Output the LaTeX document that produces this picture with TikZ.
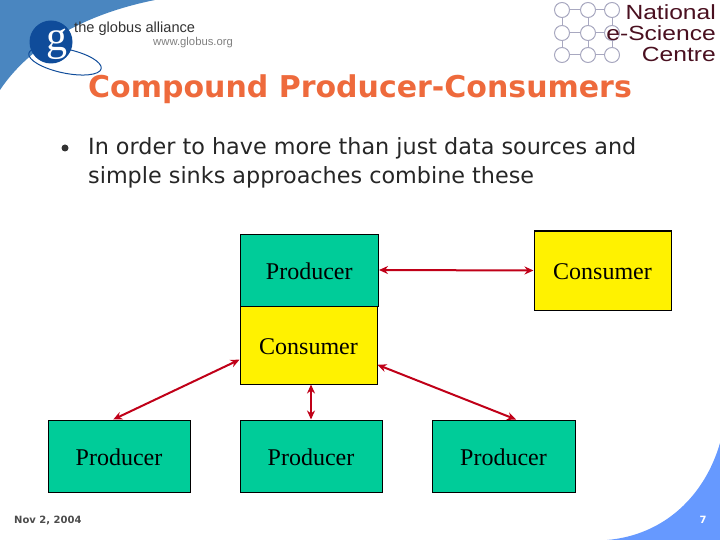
\documentclass[tikz,border=0pt]{standalone}
\usepackage{fontspec}
\setmainfont{Liberation Serif}
\setsansfont{DejaVu Sans}
\newfontfamily\logofont{Liberation Sans}
\newfontfamily\nescfont[FakeStretch=1.2]{Liberation Sans}
\usepackage{xcolor}
\usetikzlibrary{arrows.meta}
\definecolor{cornerblue}{HTML}{4A86C0}
\definecolor{footblue}{HTML}{6699FF}
\definecolor{globedark}{HTML}{0F4C9A}
\definecolor{titleorange}{HTML}{EE6A3C}
\definecolor{prodgreen}{HTML}{00CC99}
\definecolor{linkred}{HTML}{C00018}
\definecolor{gridgrey}{HTML}{A8A8C0}
\definecolor{nescred}{HTML}{4A1020}
\tikzset{
prodbox/.style={draw=black,fill=prodgreen,line width=1pt,font=\fontsize{24}{28}\selectfont,inner sep=0pt,text height=18pt,text depth=0pt},
consbox/.style={prodbox,fill=yellow},
link/.style={draw=linkred,line width=2pt,{Stealth[length=9pt,width=8pt]}-{Stealth[length=9pt,width=8pt]}},
bodytext/.style={font=\sffamily\fontsize{22.3}{29}\selectfont,text=black!85,align=left,anchor=north west,inner sep=0pt},
gridnode/.style={draw=gridgrey,fill=white,circle,line width=1pt,minimum size=15pt,inner sep=0pt},
nesctext/.style={font=\nescfont\fontsize{20.5}{21}\selectfont,text=nescred,anchor=east,inner sep=0pt,text height=15pt,text depth=0pt}
}
\begin{document}
\begin{tikzpicture}[x=1pt,y=-1pt]
\useasboundingbox (0,0) rectangle (720,540);
\fill[cornerblue] (0,0) -- (155,0) .. controls (85,14) and (30,45) .. (0,90) -- cycle;
\fill[footblue] (720,443) .. controls (705,495) and (665,535) .. (607,540) -- (720,540) -- cycle;
\node[circle,fill=globedark,minimum size=43pt,inner sep=0pt] (globe) at (51,42) {};
\draw[globedark,line width=1pt,rotate around={-12:(65,61)}] (65,61) ellipse (37 and 12);
\node[text=white,font=\fontsize{42}{42}\selectfont] (globeg) at (57,44) {g};
\node[font=\logofont\fontsize{14.6}{18}\selectfont,anchor=west,inner sep=0pt,text=black!80] (alliance) at (74,29) {the globus alliance};
\node[font=\logofont\fontsize{11.3}{12}\selectfont,anchor=west,inner sep=0pt,text=black!50] (globusurl) at (153,43) {www.globus.org};
\foreach \row/\ypos in {a/10,b/33,c/55} {
  \foreach \col/\xpos in {1/562,2/588,3/612} {
    \node[gridnode] (n\row\col) at (\xpos,\ypos) {};
  }
}
\foreach \row in {a,b,c} {
  \draw[gridgrey,line width=1pt] (n\row1) -- (n\row2) -- (n\row3);
}
\foreach \col in {1,2,3} {
  \draw[gridgrey,line width=1pt] (na\col) -- (nb\col) -- (nc\col);
}
\node[nesctext] (national) at (716,12) {National};
\node[nesctext] (escience) at (716,33) {e-Science};
\node[nesctext] (centre) at (716,54.5) {Centre};
\node[font=\sffamily\bfseries\fontsize{30}{34}\selectfont,text=titleorange,anchor=west,inner sep=0pt] (title) at (88,89) {Compound Producer-Consumers};
\node[circle,fill=black!80,minimum size=7pt,inner sep=0pt] (bullet) at (65,148) {};
\node[bodytext] (body) at (88,137) {In order to have more than just data sources and\\simple sinks approaches combine these};
\node[prodbox,minimum width=138.5pt,minimum height=72pt] (prodtop) at (309.25,270) {Producer};
\node[consbox,minimum width=137pt,minimum height=78pt] (consmid) at (308.5,345) {Consumer};
\node[consbox,minimum width=137pt,minimum height=79pt] (consright) at (602.5,270.5) {Consumer};
\node[prodbox,minimum width=142pt,minimum height=72pt] (prodleft) at (119,456) {Producer};
\node[prodbox,minimum width=142pt,minimum height=72pt] (prodmid) at (311,456) {Producer};
\node[prodbox,minimum width=143pt,minimum height=72pt] (prodright) at (503.5,456) {Producer};
\draw[link] (prodtop.east) -- (consright.west);
\draw[link] (consmid.192) -- (prodleft.99);
\draw[link] (consmid.south -| prodmid.north) -- (prodmid.north);
\draw[link] (consmid.-16) -- (prodright.71);
\node[font=\sffamily\bfseries\fontsize{10}{11}\selectfont,text=black!70,anchor=west,inner sep=0pt] (datefoot) at (14,520) {Nov 2, 2004};
\node[font=\sffamily\bfseries\fontsize{10}{11}\selectfont,text=white,inner sep=0pt] (pagenum) at (703,520) {7};
\end{tikzpicture}
\end{document}
